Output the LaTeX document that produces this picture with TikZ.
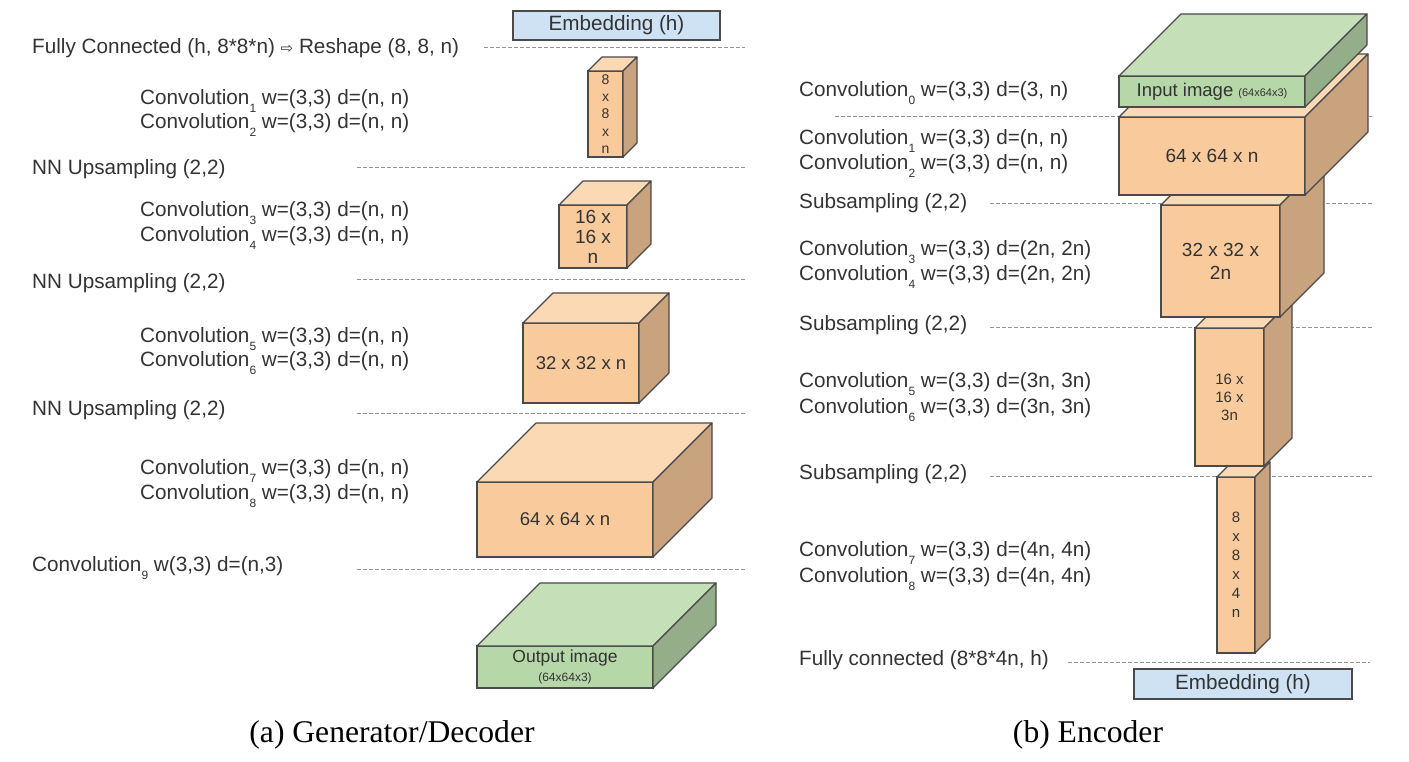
\documentclass[tikz,border=0pt]{standalone}
\usepackage{fontspec}
\setmainfont{Liberation Serif}
\setsansfont{Liberation Sans}
\newfontfamily\arrowfont{DejaVu Sans}

\definecolor{frontor}{HTML}{F9CB9C}
\definecolor{topor}{HTML}{FBD9B5}
\definecolor{sideor}{HTML}{C9A27E}
\definecolor{frontgr}{HTML}{B6D7A8}
\definecolor{topgr}{HTML}{C5E0B9}
\definecolor{sidegr}{HTML}{93AE88}
\definecolor{embblue}{HTML}{CFE2F3}
\definecolor{edge}{HTML}{4A4A4A}
\definecolor{txt}{HTML}{333333}

% low subscript as in the original labels
\newcommand{\ix}[1]{\raisebox{-0.38em}{\fontsize{12}{12}\selectfont #1}}
% top and side faces of a layer block: node, depth, top colour, side colour
\newcommand{\faces}[4]{%
  \draw[face,fill=#3] (#1.north west) -- ++(#2,-#2) -- ([shift={(#2,-#2)}]#1.north east) -- (#1.north east) -- cycle;
  \draw[face,fill=#4] (#1.north east) -- ++(#2,-#2) -- ([shift={(#2,-#2)}]#1.south east) -- (#1.south east) -- cycle;}

\begin{document}
\begin{tikzpicture}[x=1pt,y=-1pt,
    lab/.style={anchor=west,inner sep=0pt,text=txt,font=\sffamily\fontsize{20.7}{24}\selectfont},
    sep/.style={draw=gray!85,line width=1pt,dash pattern=on 3.5pt off 2.5pt},
    layer/.style={draw=edge,line width=1.1pt,anchor=north west,inner sep=0pt,outer sep=0pt,
        text=txt,align=center,font=\sffamily\fontsize{18.5}{22}\selectfont},
    emb/.style={layer,fill=embblue,font=\sffamily\fontsize{20.7}{24}\selectfont},
    face/.style={draw=edge,line width=1.1pt,line join=round},
    captext/.style={inner sep=0pt,font=\fontsize{31.6}{36}\selectfont}]
  \useasboundingbox (0,0) rectangle (1409,762);

  % separators
  \draw[sep] (484,48) -- (745,48);
  \foreach \y in {168,280,413,569}
    \draw[sep] (357,\y) -- (745,\y);
  \draw[sep] (835,117) -- (1372,117);
  \foreach \y in {204,327,476}
    \draw[sep] (990,\y) -- (1373,\y);
  \draw[sep] (1068,662) -- (1370,662);

  % (a) generator / decoder
  \node[lab] (gfc) at (32,48) {Fully Connected (h, 8*8*n) {\arrowfont\fontsize{15}{15}\selectfont ⇨} Reshape (8, 8, n)};
  \node[lab] (gc1) at (140,101) {Convolution\ix{1} w=(3,3) d=(n, n)};
  \node[lab] (gc2) at (140,125) {Convolution\ix{2} w=(3,3) d=(n, n)};
  \node[lab] (gup1) at (32,169) {NN Upsampling (2,2)};
  \node[lab] (gc3) at (140,213) {Convolution\ix{3} w=(3,3) d=(n, n)};
  \node[lab] (gc4) at (140,238) {Convolution\ix{4} w=(3,3) d=(n, n)};
  \node[lab] (gup2) at (32,283) {NN Upsampling (2,2)};
  \node[lab] (gc5) at (140,339) {Convolution\ix{5} w=(3,3) d=(n, n)};
  \node[lab] (gc6) at (140,363) {Convolution\ix{6} w=(3,3) d=(n, n)};
  \node[lab] (gup3) at (32,410) {NN Upsampling (2,2)};
  \node[lab] (gc7) at (140,471) {Convolution\ix{7} w=(3,3) d=(n, n)};
  \node[lab] (gc8) at (140,496) {Convolution\ix{8} w=(3,3) d=(n, n)};
  \node[lab] (gc9) at (32,568) {Convolution\ix{9} w(3,3) d=(n,3)};

  \node[emb,minimum width=207pt,minimum height=29pt] (gemb) at (513,11) {Embedding (h)};
  \node[layer,fill=frontor,minimum width=35pt,minimum height=86pt,
        font=\sffamily\fontsize{14}{17.3}\selectfont] (g8) at (588,71) {8\\x\\8\\x\\n};
  \faces{g8}{14}{topor}{sideor}
  \node[layer,fill=frontor,minimum width=68pt,minimum height=63pt,
        font=\sffamily\fontsize{19}{20}\selectfont] (g16) at (559,205) {16 x\\16 x\\n};
  \faces{g16}{24}{topor}{sideor}
  \node[layer,fill=frontor,minimum width=116pt,minimum height=80pt] (g32) at (523,323) {32 x 32 x n};
  \faces{g32}{30}{topor}{sideor}
  \node[layer,fill=frontor,minimum width=176pt,minimum height=75pt] (g64) at (477,482) {64 x 64 x n};
  \faces{g64}{59}{topor}{sideor}
  \node[layer,fill=frontgr,minimum width=176pt,minimum height=42pt,
        font=\sffamily\fontsize{17.5}{19}\selectfont] (gout) at (477,646)
        {Output image\\{\fontsize{12}{13}\selectfont (64x64x3)}};
  \faces{gout}{63}{topgr}{sidegr}

  \node[captext] (capa) at (392,735) {(a) Generator/Decoder};

  % (b) encoder
  \node[lab] (ec0) at (799,93) {Convolution\ix{0} w=(3,3) d=(3, n)};
  \node[lab] (ec1) at (799,141) {Convolution\ix{1} w=(3,3) d=(n, n)};
  \node[lab] (ec2) at (799,166) {Convolution\ix{2} w=(3,3) d=(n, n)};
  \node[lab] (esub1) at (799,203) {Subsampling (2,2)};
  \node[lab] (ec3) at (799,252) {Convolution\ix{3} w=(3,3) d=(2n, 2n)};
  \node[lab] (ec4) at (799,277) {Convolution\ix{4} w=(3,3) d=(2n, 2n)};
  \node[lab] (esub2) at (799,325) {Subsampling (2,2)};
  \node[lab] (ec5) at (799,384) {Convolution\ix{5} w=(3,3) d=(3n, 3n)};
  \node[lab] (ec6) at (799,410) {Convolution\ix{6} w=(3,3) d=(3n, 3n)};
  \node[lab] (esub3) at (799,474) {Subsampling (2,2)};
  \node[lab] (ec7) at (799,553) {Convolution\ix{7} w=(3,3) d=(4n, 4n)};
  \node[lab] (ec8) at (799,579) {Convolution\ix{8} w=(3,3) d=(4n, 4n)};
  \node[lab] (efc) at (799,660) {Fully connected (8*8*4n, h)};

  \node[layer,fill=frontor,minimum width=38pt,minimum height=176pt,
        font=\sffamily\fontsize{15}{19}\selectfont] (e8) at (1217,477) {8\\x\\8\\x\\4\\n};
  \faces{e8}{15}{topor}{sideor}
  \node[layer,fill=frontor,minimum width=69pt,minimum height=138pt,
        font=\sffamily\fontsize{15}{18}\selectfont] (e16) at (1195,328) {16 x\\16 x\\3n};
  \faces{e16}{28}{topor}{sideor}
  \node[layer,fill=frontor,minimum width=119pt,minimum height=112pt,
        font=\sffamily\fontsize{19}{23}\selectfont] (e32) at (1161,205) {32 x 32 x\\2n};
  \faces{e32}{44}{topor}{sideor}
  \node[layer,fill=frontor,minimum width=186pt,minimum height=78pt,
        font=\sffamily\fontsize{19}{22}\selectfont] (e64) at (1119,117) {64 x 64 x n};
  \faces{e64}{63}{topor}{sideor}
  \node[layer,fill=frontgr,minimum width=186pt,minimum height=31pt] (ein) at (1119,76)
        {Input image {\fontsize{11}{12}\selectfont (64x64x3)}};
  \faces{ein}{62}{topgr}{sidegr}
  \node[emb,minimum width=218pt,minimum height=30pt] (eemb) at (1134,669) {Embedding (h)};

  \node[captext] (capb) at (1088,735) {(b) Encoder};
\end{tikzpicture}
\end{document}
